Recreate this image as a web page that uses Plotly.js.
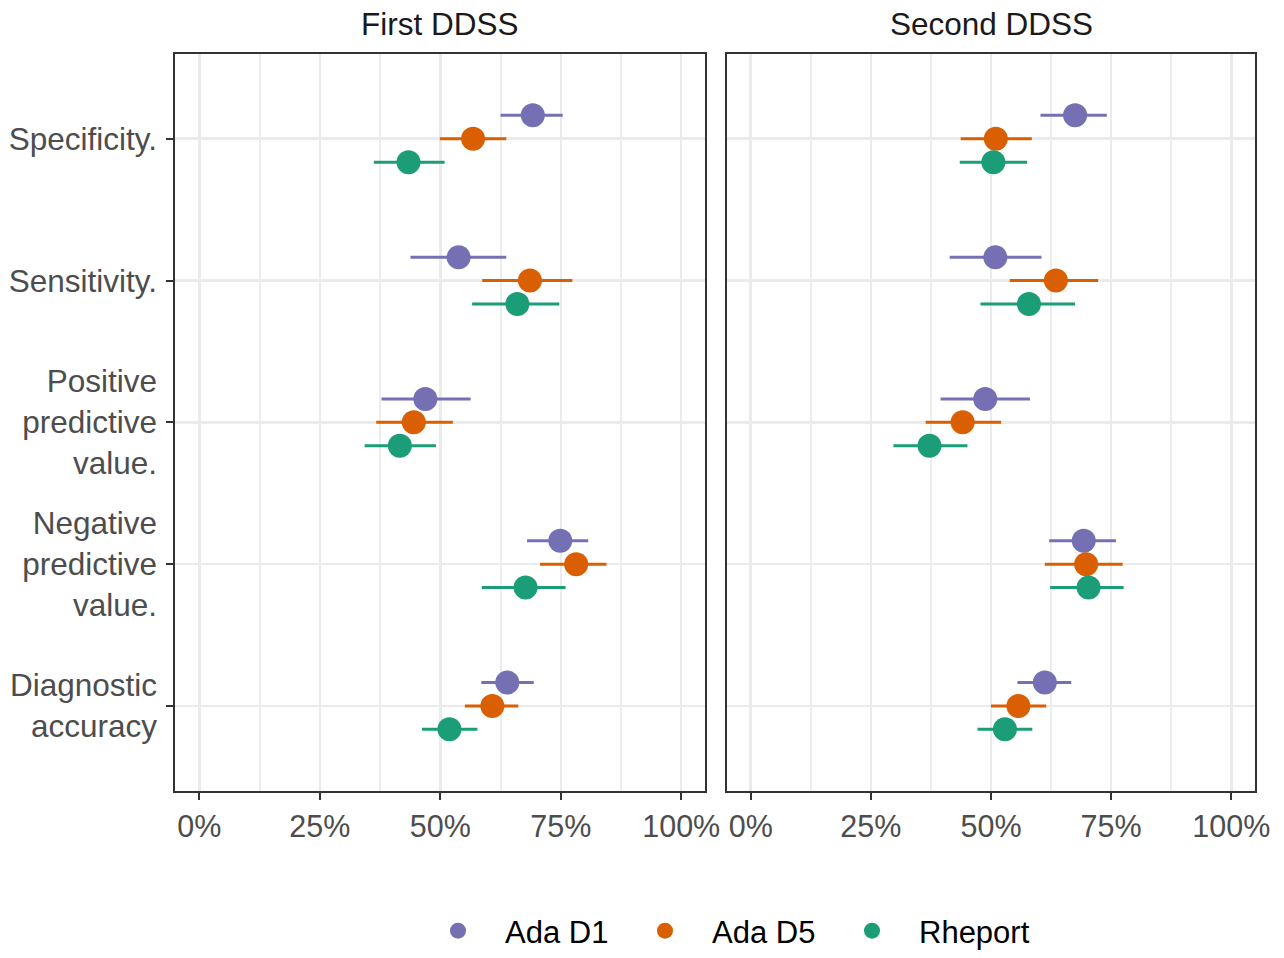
<!DOCTYPE html>
<html>
<head>
<meta charset="utf-8">
<script src="https://cdn.plot.ly/plotly-3.0.1.min.js"></script>
<style>html,body{margin:0;padding:0;background:#fff;}#chart{width:1284px;height:958px;}</style>
</head>
<body>
<div id="chart"></div>
<script>
// ---- data ----
var categories = ["Specificity.", "Sensitivity.", "Positive predictive value.", "Negative predictive value.", "Diagnostic accuracy"];
var categoryTickLabels = ["Specificity.", "Sensitivity.", "Positive<br>predictive<br>value.", "Negative<br>predictive<br>value.", "Diagnostic<br>accuracy"];
var panels = ["First DDSS", "Second DDSS"];
var seriesNames = ["Ada D1", "Ada D5", "Rheport"];
var xTickVals = [0, 0.25, 0.5, 0.75, 1];

// First DDSS
var adaD1_first    = [0.692, 0.538, 0.469, 0.749, 0.639];
var adaD1_first_lo = [0.625, 0.438, 0.378, 0.680, 0.585];
var adaD1_first_hi = [0.754, 0.637, 0.563, 0.807, 0.694];
var adaD5_first    = [0.568, 0.686, 0.445, 0.782, 0.608];
var adaD5_first_lo = [0.499, 0.587, 0.367, 0.707, 0.551];
var adaD5_first_hi = [0.637, 0.774, 0.526, 0.845, 0.662];
var rheport_first    = [0.434, 0.660, 0.416, 0.677, 0.519];
var rheport_first_lo = [0.362, 0.566, 0.343, 0.586, 0.462];
var rheport_first_hi = [0.509, 0.747, 0.491, 0.760, 0.577];

// Second DDSS
var adaD1_second    = [0.675, 0.509, 0.488, 0.693, 0.612];
var adaD1_second_lo = [0.603, 0.414, 0.395, 0.621, 0.555];
var adaD1_second_hi = [0.741, 0.605, 0.581, 0.760, 0.667];
var adaD5_second    = [0.510, 0.635, 0.441, 0.698, 0.557];
var adaD5_second_lo = [0.437, 0.539, 0.364, 0.612, 0.500];
var adaD5_second_hi = [0.585, 0.723, 0.521, 0.774, 0.615];
var rheport_second    = [0.505, 0.579, 0.372, 0.703, 0.529];
var rheport_second_lo = [0.435, 0.478, 0.297, 0.623, 0.472];
var rheport_second_hi = [0.575, 0.675, 0.451, 0.776, 0.586];

// ---- styling ----
var colors = ["#7570B3", "#D95F02", "#1B9E77"];
var dodge = [0.165, 0, -0.165];
var FONT = "Liberation Sans, Arial, Helvetica, sans-serif";
var W = 1284, H = 958;

var panelData = [
  [[adaD1_first, adaD1_first_lo, adaD1_first_hi], [adaD5_first, adaD5_first_lo, adaD5_first_hi], [rheport_first, rheport_first_lo, rheport_first_hi]],
  [[adaD1_second, adaD1_second_lo, adaD1_second_hi], [adaD5_second, adaD5_second_lo, adaD5_second_hi], [rheport_second, rheport_second_lo, rheport_second_hi]]
];

var n = categories.length;
var traces = [];
panelData.forEach(function (pd, p) {
  pd.forEach(function (s, k) {
    var est = s[0], lo = s[1], hi = s[2];
    traces.push({
      type: "scatter",
      mode: "markers",
      name: seriesNames[k],
      legendgroup: seriesNames[k],
      showlegend: p === 0,
      x: est,
      y: est.map(function (_, i) { return (n - 1 - i) + dodge[k]; }),
      text: categories,
      xaxis: p === 0 ? "x" : "x2",
      yaxis: p === 0 ? "y" : "y2",
      marker: { color: colors[k], size: 24, line: { width: 0 } },
      error_x: {
        type: "data", symmetric: false,
        array: est.map(function (v, i) { return hi[i] - v; }),
        arrayminus: est.map(function (v, i) { return v - lo[i]; }),
        color: colors[k], thickness: 3, width: 0
      },
      hovertemplate: "%{text}: %{x:.1%}<extra>" + seriesNames[k] + "</extra>"
    });
  });
});

var xdom1 = [175.3 / W, 705.3 / W];
var xdom2 = [726.7 / W, 1255.3 / W];
var ydom = [1 - 796 / H, 1 - 54 / H];

function xAxis(dom, anchor) {
  return {
    domain: dom, anchor: anchor, range: [-0.05, 1.05],
    tickvals: xTickVals, tickformat: ".0%",
    showgrid: true, gridcolor: "#EBEBEB", gridwidth: 2.5,
    minor: { tickvals: [0.125, 0.375, 0.625, 0.875], showgrid: true, gridcolor: "#EDEDED", gridwidth: 2, ticks: "" },
    zeroline: false,
    showline: true, mirror: true, linecolor: "#333333", linewidth: 2,
    ticks: "outside", ticklen: 7, tickwidth: 2, tickcolor: "#333333",
    tickfont: { family: FONT, size: 30.5, color: "#4D4D4D" },
    fixedrange: true
  };
}
function yAxis(anchor, labels) {
  return {
    domain: ydom, anchor: anchor, range: [-0.6, 4.6],
    tickvals: categories.map(function (_, i) { return n - 1 - i; }),
    ticktext: categoryTickLabels,
    showticklabels: labels,
    ticklabelstandoff: 3,
    showgrid: true, gridcolor: "#EBEBEB", gridwidth: 2.5,
    zeroline: false,
    showline: true, mirror: true, linecolor: "#333333", linewidth: 2,
    ticks: labels ? "outside" : "", ticklen: 7, tickwidth: 2, tickcolor: "#333333",
    tickfont: { family: FONT, size: 31.5, color: "#4D4D4D" },
    fixedrange: true
  };
}

var layout = {
  width: W, height: H,
  margin: { l: 0, r: 0, t: 0, b: 0 },
  paper_bgcolor: "#FFFFFF", plot_bgcolor: "#FFFFFF",
  font: { family: FONT, size: 30, color: "#1A1A1A" },
  showlegend: true,
  legend: {
    orientation: "h", x: 411 / W, xanchor: "left", y: 1 - 937 / H, yanchor: "middle",
    font: { family: FONT, size: 31, color: "#000000" },
    itemwidth: 84,
    entrywidth: 108, entrywidthmode: "pixels",
    bgcolor: "rgba(0,0,0,0)"
  },
  xaxis: xAxis(xdom1, "y"),
  yaxis: yAxis("x", true),
  xaxis2: xAxis(xdom2, "y2"),
  yaxis2: yAxis("x2", false),
  annotations: panels.map(function (t, p) {
    var d = p === 0 ? xdom1 : xdom2;
    return {
      text: t, xref: "paper", yref: "paper", x: (d[0] + d[1]) / 2, y: 1 - 24 / H,
      xanchor: "center", yanchor: "middle", showarrow: false,
      font: { family: FONT, size: 31.5, color: "#1A1A1A" }
    };
  })
};

Plotly.newPlot("chart", traces, layout, { displayModeBar: false, staticPlot: true });
</script>
</body>
</html>
